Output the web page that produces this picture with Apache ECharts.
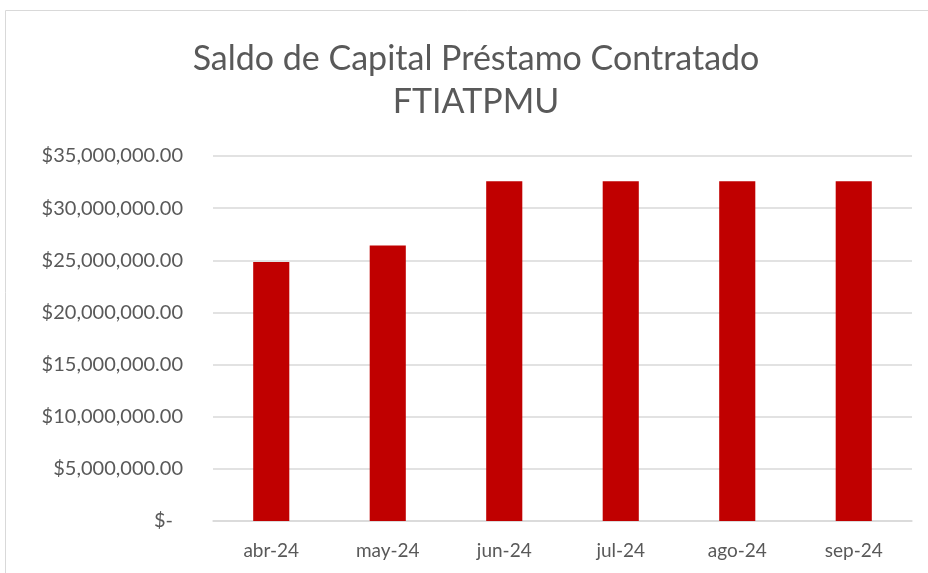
<!DOCTYPE html>
<html>
<head>
<meta charset="utf-8">
<script src="https://cdn.jsdelivr.net/npm/echarts@6/dist/echarts.min.js"></script>
<style>
  html, body { margin: 0; padding: 0; background: #fff; }
  #chart { width: 928px; height: 573px; }
</style>
</head>
<body>
<div id="chart"></div>
<script>
var months = ['abr-24', 'may-24', 'jun-24', 'jul-24', 'ago-24', 'sep-24'];
var saldo = [24830000, 26420000, 32580000, 32580000, 32580000, 32580000];
var titleLines = ['Saldo de Capital Préstamo Contratado', 'FTIATPMU'];

function money(v) {
    if (v === 0) return '{z|$-}';
    return '$' + v.toLocaleString('en-US', {minimumFractionDigits: 2, maximumFractionDigits: 2});
}

var option = {
    animation: false,
    textStyle: {fontFamily: 'Lato'},
    title: {
        text: titleLines.join('\n'),
        left: 471,
        textAlign: 'center',
        top: 33,
        textStyle: {
            fontFamily: 'Lato',
            fontSize: 34,
            fontWeight: 'normal',
            color: '#595959',
            lineHeight: 43
        }
    },
    graphic: [{
        type: 'rect',
        shape: {x: 5.5, y: 10.5, width: 940, height: 600},
        style: {fill: 'none', stroke: '#d9d9d9', lineWidth: 1},
        silent: true
    }],
    grid: {left: 213, right: 16, top: 156, bottom: 52},
    xAxis: {
        type: 'category',
        data: months,
        axisLine: {lineStyle: {color: '#d9d9d9', width: 1.5}},
        axisTick: {show: false},
        axisLabel: {color: '#595959', fontSize: 19, margin: 20}
    },
    yAxis: {
        type: 'value',
        min: 0,
        max: 35000000,
        interval: 5000000,
        axisLine: {show: false},
        axisTick: {show: false},
        splitLine: {lineStyle: {color: '#d9d9d9', width: 1.5}},
        axisLabel: {
            color: '#595959',
            fontSize: 20,
            margin: 30,
            formatter: money,
            rich: {z: {color: '#595959', fontSize: 20, fontFamily: 'Lato', padding: [0, 10, 0, 0]}}
        }
    },
    series: [{
        name: 'Saldo',
        type: 'bar',
        data: saldo,
        barWidth: '31%',
        itemStyle: {color: '#C00000'}
    }]
};

var chart = echarts.init(document.getElementById('chart'));
chart.setOption(option);
window.onresize = function () {
    chart.resize();
};
</script>
</body>
</html>
